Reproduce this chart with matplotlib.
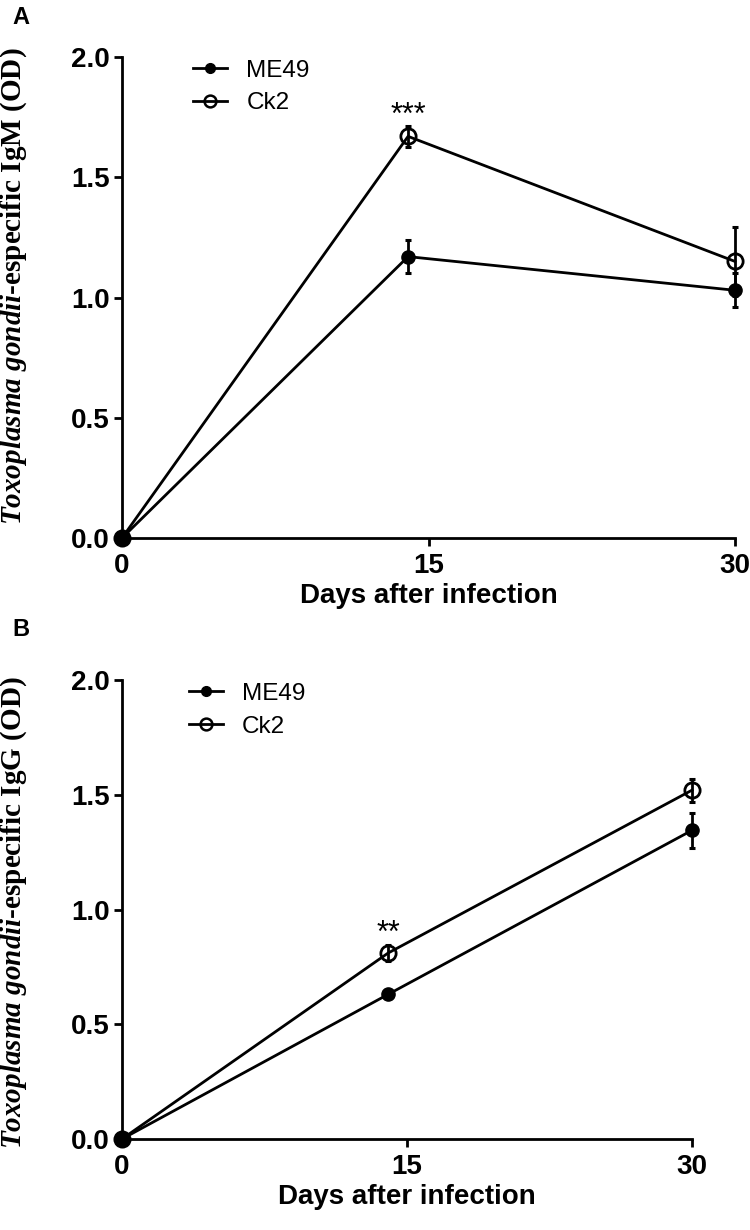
import matplotlib
matplotlib.use('Agg')
from matplotlib import pyplot as plt
from matplotlib.lines import Line2D

# days post infection
days = [0, 14, 30]

# panel A - IgM (OD)
igm_me49 = [0.0, 1.17, 1.03]
igm_me49_err = [0.0, 0.07, 0.07]
igm_ck2 = [0.0, 1.67, 1.15]
igm_ck2_err = [0.0, 0.045, 0.145]

# panel B - IgG (OD)
igg_me49 = [0.0, 0.63, 1.345]
igg_me49_err = [0.0, 0.012, 0.075]
igg_ck2 = [0.0, 0.81, 1.52]
igg_ck2_err = [0.0, 0.035, 0.05]

x_ticks = [0, 15, 30]
y_ticks = [0.0, 0.5, 1.0, 1.5, 2.0]

plt.rcParams['font.family'] = 'Liberation Sans'
plt.rcParams['mathtext.fontset'] = 'custom'
plt.rcParams['mathtext.rm'] = 'Liberation Serif:bold'
plt.rcParams['mathtext.it'] = 'Liberation Serif:italic:bold'
plt.rcParams['mathtext.bf'] = 'Liberation Serif:bold'

fig = plt.figure(figsize=(7.5, 12.3), dpi=100)
W, H = 750, 1230


def draw_panel(rect, me49, me49_err, ck2, ck2_err, star, star_y, ylabel, label_y):
    ax = fig.add_axes(rect)
    ax.errorbar(days, ck2, yerr=ck2_err, fmt='none', ecolor='black',
                capsize=2.5, capthick=2.2, elinewidth=2, clip_on=False, zorder=2)
    ax.errorbar(days, me49, yerr=me49_err, fmt='none', ecolor='black',
                capsize=2.5, capthick=2.2, elinewidth=2, clip_on=False, zorder=2)
    ax.plot(days, ck2, color='black', lw=2, marker='o', ms=11, mfc='none',
            mec='black', mew=2, clip_on=False, zorder=3)
    ax.plot(days, me49, color='black', lw=2, marker='o', ms=9.5, mfc='black',
            mec='black', clip_on=False, zorder=4)
    ax.set_xlim(0, 30)
    ax.set_ylim(0, 2)
    ax.set_xticks(x_ticks)
    ax.set_yticks(y_ticks)
    ax.set_yticklabels(['%.1f' % v for v in y_ticks])
    for s in ['top', 'right']:
        ax.spines[s].set_visible(False)
    for s in ['left', 'bottom']:
        ax.spines[s].set_linewidth(2)
    ax.tick_params(direction='out', length=6, width=2, labelsize=20, pad=3)
    ax.tick_params(axis='x', pad=5)
    for t in ax.get_xticklabels() + ax.get_yticklabels():
        t.set_fontweight('bold')
    ax.set_xlabel('Days after infection', fontsize=20, fontweight='bold', labelpad=3)
    ax.text(14, star_y, star, ha='center', va='baseline', fontsize=22)
    handles = [Line2D([], [], color='black', lw=2, marker='o', ms=7, mfc='black'),
               Line2D([], [], color='black', lw=2, marker='o', ms=8.5, mfc='none', mew=1.8)]
    ax.legend(handles, ['ME49', 'Ck2'], loc='upper left', bbox_to_anchor=(0.1, 1.015),
              frameon=False, fontsize=17.5, handlelength=1.4, handletextpad=0.8,
              labelspacing=0.45, borderaxespad=0)
    fig.text(14 / W, 1 - label_y / H, ylabel, rotation=90, ha='center', va='center',
             fontsize=21, family='Liberation Serif', weight='bold')
    return ax


draw_panel([122 / W, 1 - 538 / H, 613 / W, 481 / H], igm_me49, igm_me49_err,
           igm_ck2, igm_ck2_err, '***', 1.72,
           r'$Toxoplasma\ gondii$-especific IgM (OD)', 286)
draw_panel([122 / W, 1 - 1139 / H, 570 / W, 459 / H], igg_me49, igg_me49_err,
           igg_ck2, igg_ck2_err, '**', 0.86,
           r'$Toxoplasma\ gondii$-especific IgG (OD)', 913)

fig.text(12 / W, 1 - 18 / H, 'A', fontsize=17, fontweight='bold', va='center')
fig.text(12 / W, 1 - 630 / H, 'B', fontsize=17, fontweight='bold', va='center')

plt.savefig('out.png', dpi=100)
